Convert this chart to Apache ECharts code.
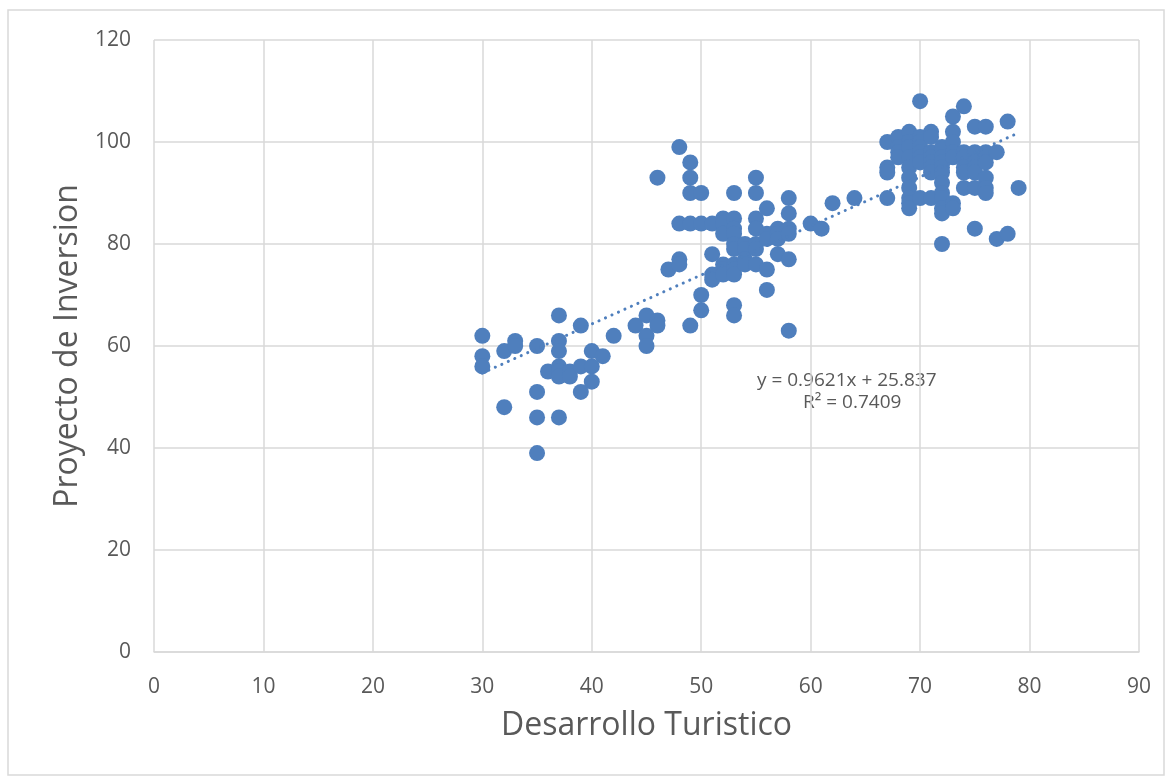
<!DOCTYPE html>
<html>
<head>
<meta charset="utf-8">
<script src="https://cdn.jsdelivr.net/npm/echarts@6/dist/echarts.min.js"></script>
<style>
  html, body { margin: 0; padding: 0; background: #fff; }
  #chart { width: 1169px; height: 778px; }
</style>
</head>
<body>
<div id="chart"></div>
<script>
// Desarrollo Turistico (x) vs Proyecto de Inversion (y)
const desarrollo = [
  30, 30, 30, 32, 32, 33, 33, 35, 35, 35, 35, 36, 37, 37, 37, 37, 37, 37, 37, 38,
  38, 39, 39, 39, 40, 40, 40, 41, 42, 44, 45, 45, 45, 46, 46, 46, 47, 48, 48, 48,
  48, 49, 49, 49, 49, 49, 50, 50, 50, 50, 51, 51, 51, 51, 52, 52, 52, 52, 52, 52,
  53, 53, 53, 53, 53, 53, 53, 53, 53, 53, 53, 54, 54, 54, 54, 55, 55, 55, 55, 55,
  55, 55, 56, 56, 56, 56, 56, 57, 57, 57, 57, 58, 58, 58, 58, 58, 58, 60, 61, 62,
  64, 67, 67, 67, 67, 68, 68, 68, 68, 69, 69, 69, 69, 69, 69, 69, 69, 69, 69, 70,
  70, 70, 70, 70, 70, 70, 70, 71, 71, 71, 71, 71, 71, 71, 71, 72, 72, 72, 72, 72,
  72, 72, 72, 72, 72, 72, 73, 73, 73, 73, 73, 73, 73, 74, 74, 74, 74, 74, 74, 75,
  75, 75, 75, 75, 75, 75, 76, 76, 76, 76, 76, 76, 76, 77, 77, 78, 78, 79
]
const inversion = [
  62, 58, 56, 59, 48, 61, 60, 60, 51, 46, 39, 55, 66, 61, 59, 56, 55, 54, 46, 55,
  54, 64, 56, 51, 59, 56, 53, 58, 62, 64, 66, 62, 60, 65, 64, 93, 75, 99, 84, 77,
  76, 96, 93, 90, 84, 64, 90, 84, 70, 67, 84, 78, 74, 73, 85, 84, 82, 76, 75, 74,
  90, 85, 83, 82, 80, 79, 76, 75, 74, 68, 66, 80, 79, 77, 76, 93, 90, 85, 83, 80,
  79, 76, 87, 82, 81, 75, 71, 83, 82, 81, 78, 89, 86, 83, 82, 77, 63, 84, 83, 88,
  89, 100, 95, 94, 89, 101, 99, 98, 97, 102, 100, 99, 97, 95, 93, 91, 89, 88, 87, 108,
  101, 100, 99, 98, 97, 96, 89, 102, 101, 98, 97, 96, 95, 94, 89, 99, 97, 96, 95, 94,
  92, 90, 89, 87, 86, 80, 105, 102, 100, 98, 97, 88, 87, 107, 98, 97, 95, 94, 91, 103,
  98, 96, 95, 94, 91, 83, 103, 98, 97, 96, 93, 91, 90, 98, 81, 104, 82, 91
]

// linear trendline end points (x, y) as drawn
const trendX = [30, 79]
const trendY = [54.7, 101.8]
const trendLabel = ['y = 0.9621x + 25.837', 'R² = 0.7409']

const xTicks = { min: 0, max: 90, interval: 10 }
const yTicks = { min: 0, max: 120, interval: 20 }

const points = desarrollo.map((x, i) => [x, inversion[i]])
const trend = trendX.map((x, i) => [x, trendY[i]])

const blue = '#4f7fbd'
const grey = '#595959'
const font = '"Open Sans", "Noto Sans", sans-serif'

var myChart = echarts.init(document.getElementById('chart'))

var option = {
  backgroundColor: '#fff',
  animation: false,
  grid: { left: 154, right: 30, top: 40, bottom: 126 },
  xAxis: {
    type: 'value',
    min: xTicks.min, max: xTicks.max, interval: xTicks.interval,
    name: 'Desarrollo Turistico',
    nameLocation: 'middle',
    nameGap: 58,
    nameTextStyle: { fontFamily: font, fontSize: 32, color: grey },
    axisLine: { show: true, lineStyle: { color: '#d9d9d9', width: 1.5 } },
    axisTick: { show: false },
    axisLabel: { fontFamily: font, fontSize: 21, color: grey, margin: 25 },
    splitLine: { show: true, lineStyle: { color: '#d9d9d9', width: 1.5 } }
  },
  yAxis: {
    type: 'value',
    min: yTicks.min, max: yTicks.max, interval: yTicks.interval,
    name: 'Proyecto de Inversion',
    nameLocation: 'middle',
    nameGap: 68,
    nameTextStyle: { fontFamily: font, fontSize: 32, color: grey },
    axisLine: { show: false },
    axisTick: { show: false },
    axisLabel: { fontFamily: font, fontSize: 21, color: grey, margin: 23 },
    splitLine: { show: true, lineStyle: { color: '#d9d9d9', width: 1.5 } }
  },
  series: [
    {
      type: 'scatter',
      data: points,
      symbolSize: 16,
      itemStyle: { color: blue, opacity: 1 },
      z: 2
    },
    {
      type: 'line',
      data: trend,
      showSymbol: false,
      symbol: 'none',
      lineStyle: { color: blue, width: 3, type: [0.1, 7], cap: 'round' },
      z: 3
    }
  ],
  graphic: [
    {
      type: 'rect',
      shape: { x: 8, y: 10, width: 1156, height: 765 },
      style: { fill: 'none', stroke: '#d9d9d9', lineWidth: 1.5 },
      silent: true
    },
    {
      type: 'text',
      left: 757, top: 371,
      style: { text: trendLabel[0], font: '19px ' + font, fill: grey }
    },
    {
      type: 'text',
      left: 803, top: 393,
      style: { text: trendLabel[1], font: '19px ' + font, fill: grey }
    }
  ]
}

myChart.setOption(option)
</script>
</body>
</html>
